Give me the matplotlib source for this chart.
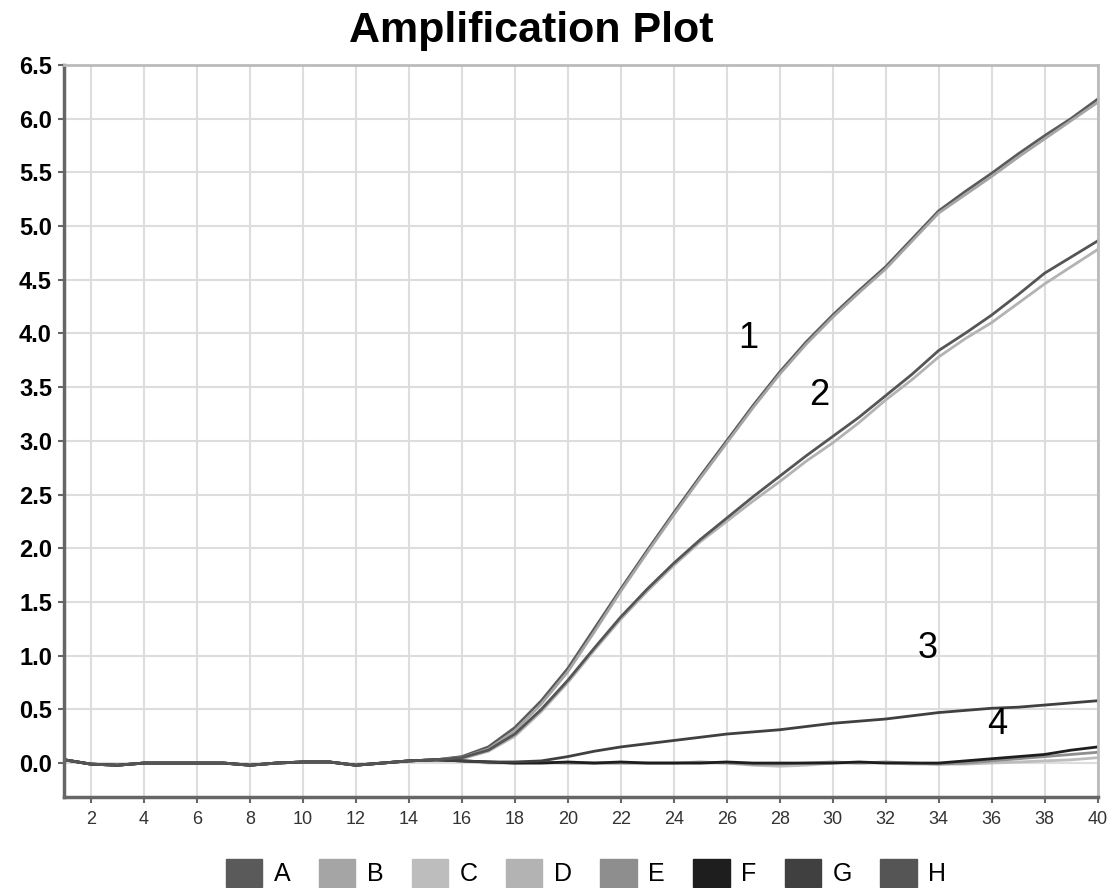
import matplotlib
matplotlib.use("Agg")
import matplotlib.pyplot as plt
from matplotlib.patches import Patch

cycles = list(range(1, 41))

base = [0.03, -0.01, -0.02, 0.0, 0.0, 0.0, 0.0, -0.02, 0.0, 0.01,
        0.01, -0.02, 0.0, 0.02, 0.03]

well_A = base + [0.06, 0.15, 0.33, 0.58, 0.88, 1.25, 1.62, 1.98, 2.33, 2.67,
                 3.00, 3.33, 3.64, 3.92, 4.17, 4.40, 4.62, 4.88, 5.14, 5.32,
                 5.49, 5.67, 5.84, 6.00, 6.18]
well_B = base + [0.05, 0.13, 0.30, 0.55, 0.85, 1.22, 1.60, 1.96, 2.31, 2.65,
                 2.98, 3.31, 3.62, 3.90, 4.15, 4.38, 4.60, 4.86, 5.12, 5.29,
                 5.46, 5.64, 5.81, 5.98, 6.15]
well_H = base + [0.05, 0.12, 0.27, 0.50, 0.77, 1.07, 1.36, 1.62, 1.86, 2.08,
                 2.28, 2.48, 2.67, 2.86, 3.04, 3.22, 3.42, 3.62, 3.84, 4.00,
                 4.17, 4.36, 4.56, 4.71, 4.86]
well_D = base + [0.04, 0.11, 0.25, 0.48, 0.75, 1.05, 1.34, 1.60, 1.84, 2.06,
                 2.25, 2.44, 2.62, 2.81, 2.98, 3.17, 3.38, 3.57, 3.78, 3.95,
                 4.10, 4.28, 4.46, 4.62, 4.78]
well_G = base + [0.02, 0.01, 0.01, 0.02, 0.06, 0.11, 0.15, 0.18, 0.21, 0.24,
                 0.27, 0.29, 0.31, 0.34, 0.37, 0.39, 0.41, 0.44, 0.47, 0.49,
                 0.51, 0.52, 0.54, 0.56, 0.58]
well_F = base + [0.02, 0.01, 0.0, 0.0, 0.01, 0.0, 0.01, 0.0, 0.0, 0.0,
                 0.01, 0.0, 0.0, 0.0, 0.0, 0.01, 0.0, 0.0, 0.0, 0.02,
                 0.04, 0.06, 0.08, 0.12, 0.15]
well_E = base + [0.02, 0.01, 0.0, 0.01, 0.0, 0.0, 0.0, 0.0, 0.0, 0.01,
                 0.0, -0.01, -0.01, 0.0, 0.01, 0.0, 0.01, 0.0, -0.01, 0.0,
                 0.02, 0.04, 0.06, 0.08, 0.10]
well_C = base + [0.02, 0.0, 0.0, 0.0, 0.0, 0.0, 0.0, 0.0, 0.0, 0.0,
                 0.0, -0.02, -0.03, -0.02, 0.0, 0.0, 0.0, -0.01, -0.01, -0.01,
                 0.0, 0.01, 0.02, 0.03, 0.05]

wells = ["A", "B", "C", "D", "E", "F", "G", "H"]
well_data = [well_A, well_B, well_C, well_D, well_E, well_F, well_G, well_H]
well_colors = ["#5a5a5a", "#a5a5a5", "#bdbdbd", "#b3b3b3", "#8e8e8e",
               "#1e1e1e", "#404040", "#555555"]

curve_labels = ["1", "2", "3", "4"]
label_x = [26.8, 29.5, 33.6, 36.2]
label_y = [3.95, 3.42, 1.07, 0.36]

fig = plt.figure(figsize=(11.12, 8.88), dpi=100)
ax = fig.add_axes([0.058, 0.102, 0.929, 0.825])

for name, vals, col in zip(wells, well_data, well_colors):
    ax.plot(cycles, vals, color=col, linewidth=2.0)

for t, x, y in zip(curve_labels, label_x, label_y):
    ax.text(x, y, t, fontsize=26, ha="center", va="center", family="Liberation Sans")

ax.set_xlim(1, 40)
ax.set_ylim(-0.32, 6.5)
ax.set_xticks(range(2, 41, 2))
ax.set_yticks([i * 0.5 for i in range(14)])
ax.set_yticklabels(["%.1f" % (i * 0.5) for i in range(14)])
ax.grid(True, color="#dddddd", linewidth=1.5)
ax.set_axisbelow(True)

for t in ax.get_yticklabels():
    t.set_fontweight("bold")
    t.set_fontsize(17)
    t.set_family("Liberation Sans")
for t in ax.get_xticklabels():
    t.set_fontsize(13)
    t.set_family("Liberation Sans")
    t.set_color("#333333")
ax.tick_params(axis="both", direction="out", length=4, width=1.5, color="#666666")
ax.tick_params(axis="x", pad=6)
ax.tick_params(axis="y", pad=5)

ax.spines["left"].set_color("#666666")
ax.spines["bottom"].set_color("#666666")
ax.spines["left"].set_linewidth(2.5)
ax.spines["bottom"].set_linewidth(2.5)
ax.spines["top"].set_color("#bbbbbb")
ax.spines["right"].set_color("#bbbbbb")
ax.spines["top"].set_linewidth(2)
ax.spines["right"].set_linewidth(2)

fig.suptitle("Amplification Plot", x=0.478, y=0.988, fontsize=31,
             fontweight="bold", family="Liberation Sans")

handles = [Patch(facecolor=c, edgecolor=c) for c in well_colors]
leg = fig.legend(handles, wells, loc="center", bbox_to_anchor=(0.527, 0.017),
                 ncol=8, frameon=False, handlelength=1.45,
                 handleheight=1.3, columnspacing=1.15, handletextpad=0.45,
                 borderpad=0.2, prop={"family": "Liberation Sans", "size": 18})

plt.savefig("out.png", dpi=100)
